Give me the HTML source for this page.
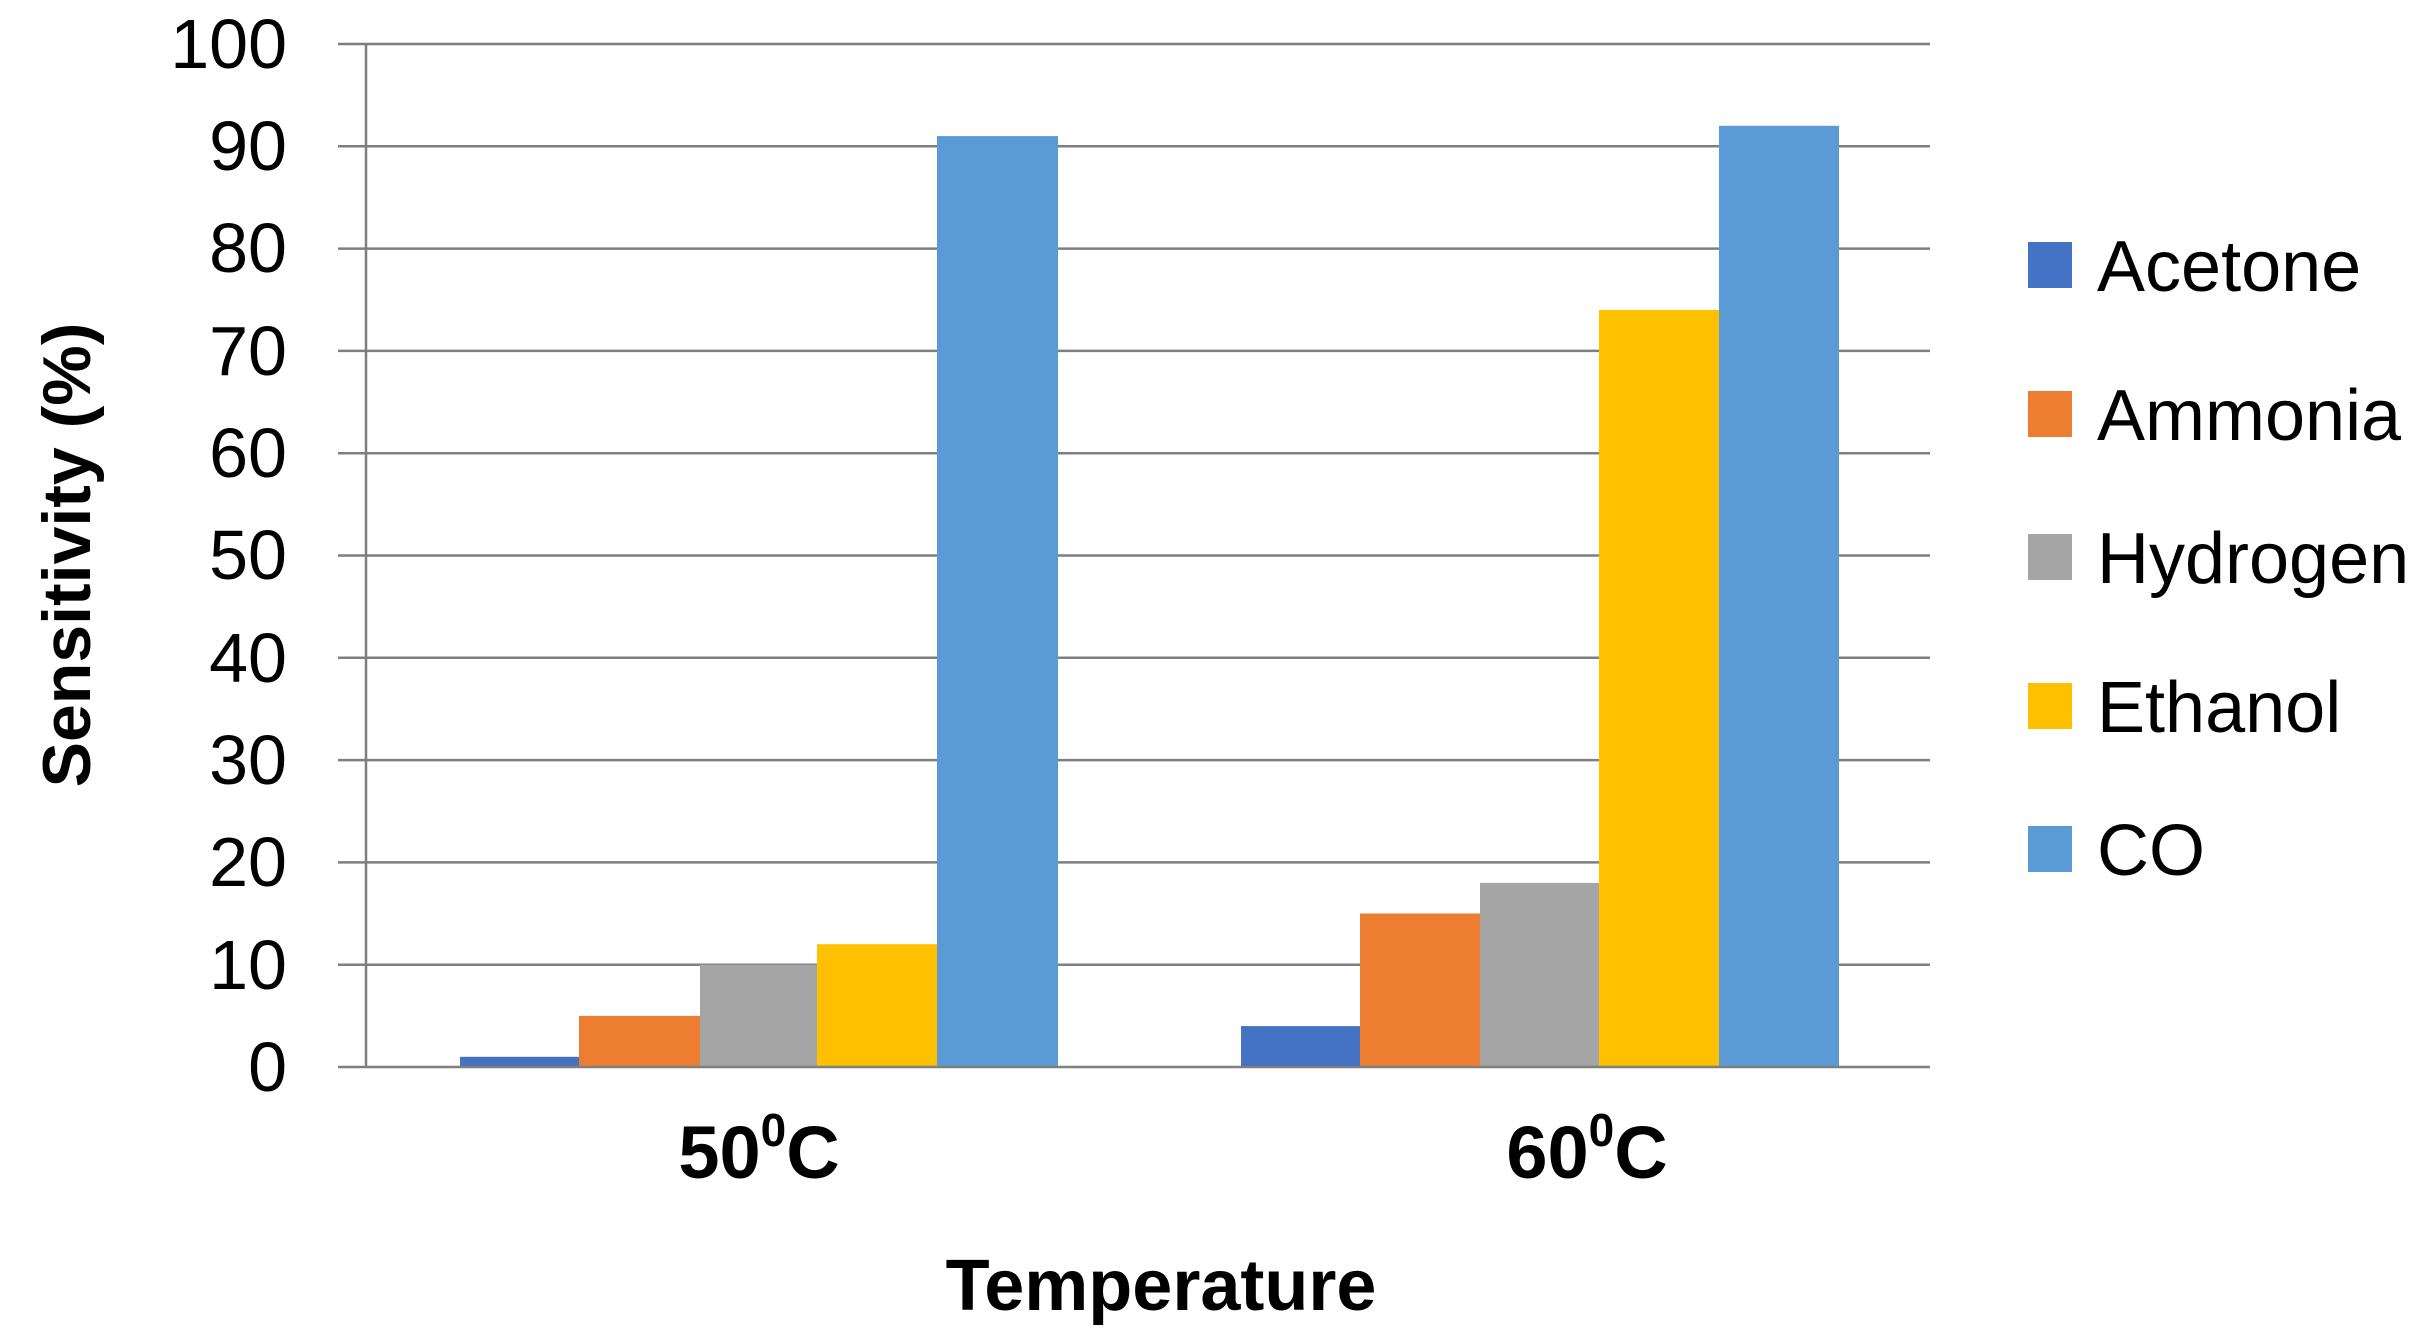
<!DOCTYPE html>
<html><head><meta charset="utf-8"><style>html,body{margin:0;padding:0;background:#fff}svg{display:block}</style></head>
<body>
<svg width="2427" height="1344" viewBox="0 0 2427 1344" xmlns="http://www.w3.org/2000/svg" font-family="'Liberation Sans', sans-serif">
<rect width="2427" height="1344" fill="#fff"/>
<g stroke="#7f7f7f" stroke-width="2.5">
<line x1="338" x2="1930" y1="44" y2="44"/>
<line x1="338" x2="1930" y1="146.3" y2="146.3"/>
<line x1="338" x2="1930" y1="248.6" y2="248.6"/>
<line x1="338" x2="1930" y1="350.9" y2="350.9"/>
<line x1="338" x2="1930" y1="453.2" y2="453.2"/>
<line x1="338" x2="1930" y1="555.5" y2="555.5"/>
<line x1="338" x2="1930" y1="657.8" y2="657.8"/>
<line x1="338" x2="1930" y1="760.1" y2="760.1"/>
<line x1="338" x2="1930" y1="862.4" y2="862.4"/>
<line x1="338" x2="1930" y1="964.7" y2="964.7"/>
<line x1="366" x2="366" y1="44" y2="1067"/>
</g>
<rect x="460" y="1056.8" width="119" height="10.2" fill="#4472c4"/>
<rect x="579" y="1015.9" width="121" height="51.1" fill="#ed7d31"/>
<rect x="700" y="964.7" width="117" height="102.3" fill="#a5a5a5"/>
<rect x="817" y="944.2" width="120" height="122.8" fill="#ffc000"/>
<rect x="937" y="136.1" width="121" height="930.9" fill="#5b9bd5"/>
<rect x="1241" y="1026.1" width="119" height="40.9" fill="#4472c4"/>
<rect x="1360" y="913.5" width="120" height="153.5" fill="#ed7d31"/>
<rect x="1480" y="882.9" width="119" height="184.1" fill="#a5a5a5"/>
<rect x="1599" y="310" width="120" height="757" fill="#ffc000"/>
<rect x="1719" y="125.8" width="120" height="941.2" fill="#5b9bd5"/>
<line x1="338" x2="1930" y1="1067" y2="1067" stroke="#7f7f7f" stroke-width="2.5"/>
<g font-size="70" fill="#000" text-anchor="end">
<text x="287" y="68">100</text>
<text x="287" y="170">90</text>
<text x="287" y="272">80</text>
<text x="287" y="375">70</text>
<text x="287" y="477">60</text>
<text x="287" y="579">50</text>
<text x="287" y="682">40</text>
<text x="287" y="784">30</text>
<text x="287" y="886">20</text>
<text x="287" y="989">10</text>
<text x="287" y="1091">0</text>
</g>
<g font-size="74" font-weight="bold" text-anchor="middle">
<text x="759" y="1178">50<tspan font-size="46" dy="-32">0</tspan><tspan dy="32">C</tspan></text>
<text x="1587" y="1178">60<tspan font-size="46" dy="-32">0</tspan><tspan dy="32">C</tspan></text>
</g>
<text x="1161" y="1310" font-size="72" font-weight="bold" text-anchor="middle">Temperature</text>
<text transform="translate(90,555) rotate(-90)" font-size="68" font-weight="bold" text-anchor="middle">Sensitivity (%)</text>
<g font-size="72">
<rect x="2028" y="242" width="44" height="46" fill="#4472c4"/><text x="2097" y="291">Acetone</text>
<rect x="2028" y="391" width="44" height="46" fill="#ed7d31"/><text x="2097" y="440">Ammonia</text>
<rect x="2028" y="534" width="44" height="46" fill="#a5a5a5"/><text x="2097" y="583">Hydrogen</text>
<rect x="2028" y="683" width="44" height="46" fill="#ffc000"/><text x="2097" y="732">Ethanol</text>
<rect x="2028" y="826" width="44" height="46" fill="#5b9bd5"/><text x="2097" y="875">CO</text>
</g>
</svg>
</body></html>
